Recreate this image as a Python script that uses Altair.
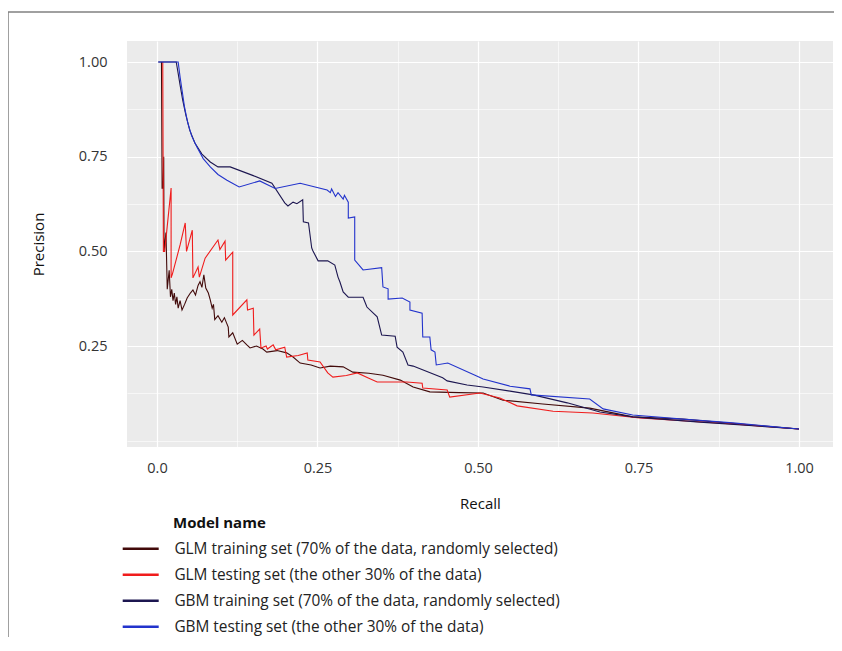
import altair as alt
import pandas as pd

# ---------------- data ----------------
series_names = [
    "GLM training set (70% of the data, randomly selected)",
    "GLM testing set (the other 30% of the data)",
    "GBM training set (70% of the data, randomly selected)",
    "GBM testing set (the other 30% of the data)",
]
series_colors = ["#420a0a", "#f01c1c", "#1c1650", "#2233cc"]

glm_train_recall = [0.007, 0.008, 0.0095, 0.0105, 0.011, 0.014, 0.016, 0.019, 0.021, 0.023, 0.025, 0.027, 0.029,
                    0.031, 0.033, 0.036, 0.039, 0.043, 0.047, 0.052, 0.056, 0.060, 0.064, 0.067, 0.070, 0.073,
                    0.076, 0.080, 0.083, 0.086, 0.088, 0.090, 0.095, 0.101, 0.105, 0.111, 0.112, 0.118, 0.125,
                    0.133, 0.140, 0.145, 0.155, 0.165, 0.171, 0.187, 0.202, 0.212, 0.223, 0.240, 0.254, 0.270,
                    0.290, 0.305, 0.330, 0.352, 0.379, 0.399, 0.425, 0.470, 0.508, 0.539, 0.601, 0.674, 0.741,
                    0.819, 0.900, 1.0]
glm_train_precision = [1.0, 0.667, 0.667, 0.75, 0.5, 0.55, 0.40, 0.45, 0.38, 0.40, 0.37, 0.39, 0.36,
                       0.38, 0.35, 0.37, 0.345, 0.36, 0.377, 0.39, 0.398, 0.385, 0.41, 0.42, 0.405, 0.438,
                       0.403, 0.39, 0.372, 0.35, 0.36, 0.32, 0.33, 0.313, 0.325, 0.300, 0.274, 0.285, 0.255,
                       0.265, 0.253, 0.245, 0.25, 0.242, 0.234, 0.238, 0.232, 0.221, 0.205, 0.200, 0.192, 0.197,
                       0.195, 0.181, 0.178, 0.173, 0.160, 0.142, 0.129, 0.127, 0.126, 0.107, 0.097, 0.086, 0.063,
                       0.057, 0.045, 0.031]

glm_test_recall = [0.009, 0.010, 0.012, 0.022, 0.022, 0.024, 0.036, 0.044, 0.046, 0.055, 0.056, 0.064, 0.066,
                   0.075, 0.095, 0.098, 0.106, 0.107, 0.118, 0.118, 0.140, 0.141, 0.150, 0.151, 0.160, 0.162,
                   0.170, 0.172, 0.181, 0.185, 0.199, 0.202, 0.220, 0.234, 0.235, 0.254, 0.266, 0.274, 0.295,
                   0.312, 0.330, 0.343, 0.389, 0.413, 0.414, 0.452, 0.456, 0.503, 0.534, 0.561, 0.617, 0.679,
                   0.752, 0.897, 1.0]
glm_test_precision = [1.0, 0.50, 0.50, 0.667, 0.43, 0.44, 0.517, 0.575, 0.50, 0.556, 0.43, 0.459, 0.432,
                      0.482, 0.530, 0.505, 0.527, 0.477, 0.498, 0.332, 0.372, 0.345, 0.350, 0.279, 0.295, 0.245,
                      0.25, 0.242, 0.253, 0.24, 0.247, 0.221, 0.225, 0.232, 0.213, 0.208, 0.179, 0.168, 0.172,
                      0.179, 0.165, 0.155, 0.155, 0.152, 0.139, 0.134, 0.115, 0.126, 0.113, 0.092, 0.078, 0.073,
                      0.060, 0.044, 0.031]

gbm_train_recall = [0.002, 0.030, 0.033, 0.036, 0.040, 0.045, 0.051, 0.059, 0.070, 0.083, 0.095, 0.114, 0.150,
                    0.179, 0.199, 0.204, 0.212, 0.218, 0.227, 0.228, 0.236, 0.241, 0.243, 0.251, 0.266, 0.277,
                    0.282, 0.285, 0.290, 0.298, 0.321, 0.327, 0.343, 0.350, 0.371, 0.374, 0.383, 0.391, 0.399,
                    0.445, 0.452, 0.483, 0.508, 0.550, 0.586, 0.639, 0.690, 0.741, 0.846, 1.0]
gbm_train_precision = [1.0, 1.0, 0.97, 0.939, 0.90, 0.860, 0.82, 0.786, 0.757, 0.736, 0.723, 0.723, 0.700,
                       0.680, 0.628, 0.620, 0.630, 0.626, 0.636, 0.578, 0.575, 0.509, 0.501, 0.475, 0.475, 0.464,
                       0.432, 0.419, 0.393, 0.379, 0.379, 0.353, 0.327, 0.279, 0.276, 0.247, 0.234, 0.200, 0.197,
                       0.166, 0.158, 0.147, 0.142, 0.131, 0.121, 0.100, 0.076, 0.063, 0.049, 0.031]

gbm_test_recall = [0.002, 0.033, 0.036, 0.039, 0.043, 0.048, 0.054, 0.062, 0.072, 0.083, 0.095, 0.109, 0.128,
                   0.160, 0.184, 0.223, 0.265, 0.270, 0.272, 0.278, 0.282, 0.290, 0.292, 0.298, 0.298, 0.308,
                   0.308, 0.321, 0.350, 0.352, 0.360, 0.360, 0.382, 0.394, 0.394, 0.413, 0.414, 0.425, 0.427,
                   0.433, 0.435, 0.453, 0.498, 0.508, 0.550, 0.581, 0.583, 0.674, 0.695, 0.741, 0.819, 0.897, 1.0]
gbm_test_precision = [1.0, 1.0, 0.96, 0.926, 0.88, 0.839, 0.805, 0.776, 0.745, 0.723, 0.703, 0.688, 0.670,
                      0.686, 0.666, 0.680, 0.662, 0.655, 0.665, 0.645, 0.655, 0.638, 0.648, 0.630, 0.588, 0.591,
                      0.477, 0.451, 0.457, 0.406, 0.401, 0.374, 0.377, 0.366, 0.345, 0.337, 0.274, 0.274, 0.240,
                      0.234, 0.200, 0.205, 0.171, 0.163, 0.144, 0.137, 0.121, 0.110, 0.084, 0.068, 0.057, 0.047, 0.031]

x_major = [0.0, 0.25, 0.5, 0.75, 1.0]
y_major = [0.25, 0.5, 0.75, 1.0]
x_grid = [0.0, 0.125, 0.25, 0.375, 0.5, 0.625, 0.75, 0.875, 1.0]
y_grid = [0.0, 0.125, 0.25, 0.375, 0.5, 0.625, 0.75, 0.875, 1.0]

# ---------------- build table ----------------
rows = []
for name, xs, ys in zip(series_names,
                        [glm_train_recall, glm_test_recall, gbm_train_recall, gbm_test_recall],
                        [glm_train_precision, glm_test_precision, gbm_train_precision, gbm_test_precision]):
    for i, (xv, yv) in enumerate(zip(xs, ys)):
        rows.append({"model": name, "recall": xv, "precision": yv, "idx": i})
df = pd.DataFrame(rows)

FONT = "Open Sans"
major_x_test = "indexof([0, 0.25, 0.5, 0.75, 1], datum.value) >= 0"
major_y_test = "indexof([0.25, 0.5, 0.75, 1], datum.value) >= 0"

x_axis = alt.Axis(
    values=x_grid, title="Recall", domain=False, ticks=False, tickSize=0,
    labelExpr="datum.value == 0 ? '0.0' : (indexof([0.25, 0.5, 0.75, 1], datum.value) >= 0 ? format(datum.value, '.2f') : '')",
    labelPadding=14, titlePadding=22, labelFont=FONT, titleFont=FONT, labelFontSize=14.5,
    titleFontSize=15, titleFontWeight="normal", labelColor="#333333", titleColor="#111111",
    gridColor="white", gridWidth={"condition": {"test": major_x_test, "value": 1.2}, "value": 0.6},
)
y_axis = alt.Axis(
    values=y_grid, title="Precision", domain=False, ticks=False, tickSize=0,
    labelExpr="indexof([0.25, 0.5, 0.75, 1], datum.value) >= 0 ? format(datum.value, '.2f') : ''",
    labelPadding=20, titlePadding=32, labelFont=FONT, titleFont=FONT, labelFontSize=14.5,
    titleFontSize=15, titleFontWeight="normal", labelColor="#333333", titleColor="#111111",
    gridColor="white", gridWidth={"condition": {"test": major_y_test, "value": 1.2}, "value": 0.6},
)

lines = alt.Chart(df).mark_line(strokeWidth=1.1, interpolate="linear").encode(
    x=alt.X("recall:Q", scale=alt.Scale(domain=[-0.0467, 1.053], nice=False, zero=False), axis=x_axis),
    y=alt.Y("precision:Q", scale=alt.Scale(domain=[-0.0166, 1.0555], nice=False, zero=False), axis=y_axis),
    color=alt.Color(
        "model:N",
        scale=alt.Scale(domain=series_names, range=series_colors),
        sort=series_names,
        legend=alt.Legend(
            orient="none", legendX=6, legendY=500, title=None,
            symbolType="M-3,0H3", symbolSize=144, symbolStrokeWidth=2.5,
            labelFont=FONT, labelFontSize=15.4, labelColor="#222222", labelOffset=26,
            rowPadding=9, padding=0, labelLimit=0,
        ),
    ),
    order=alt.Order("idx:Q"),
)

legend_title = alt.Chart(pd.DataFrame({"t": ["Model name"]})).mark_text(
    align="left", baseline="middle", font=FONT, fontSize=15, fontWeight="bold", color="#111111"
).encode(x=alt.value(46), y=alt.value(482), text="t:N")

frame_df = pd.DataFrame({"k": [0]})
frame_top = alt.Chart(frame_df).mark_rule(color="#808080", strokeWidth=1.5).encode(
    x=alt.value(-119), x2=alt.value(715), y=alt.value(-29))
frame_left = alt.Chart(frame_df).mark_rule(color="#808080", strokeWidth=1.5).encode(
    x=alt.value(-119), y=alt.value(-29), y2=alt.value(610))

chart = alt.layer(lines, legend_title, frame_top, frame_left).properties(
    width=706, height=406,
    autosize=alt.AutoSizeParams(type="none"),
    padding={"left": 119, "top": 33, "right": 1, "bottom": 190},
).configure(background="white").configure_view(fill="#EBEBEB", stroke=None)

chart.save("out.html", embed_options={"renderer": "svg", "actions": False})
